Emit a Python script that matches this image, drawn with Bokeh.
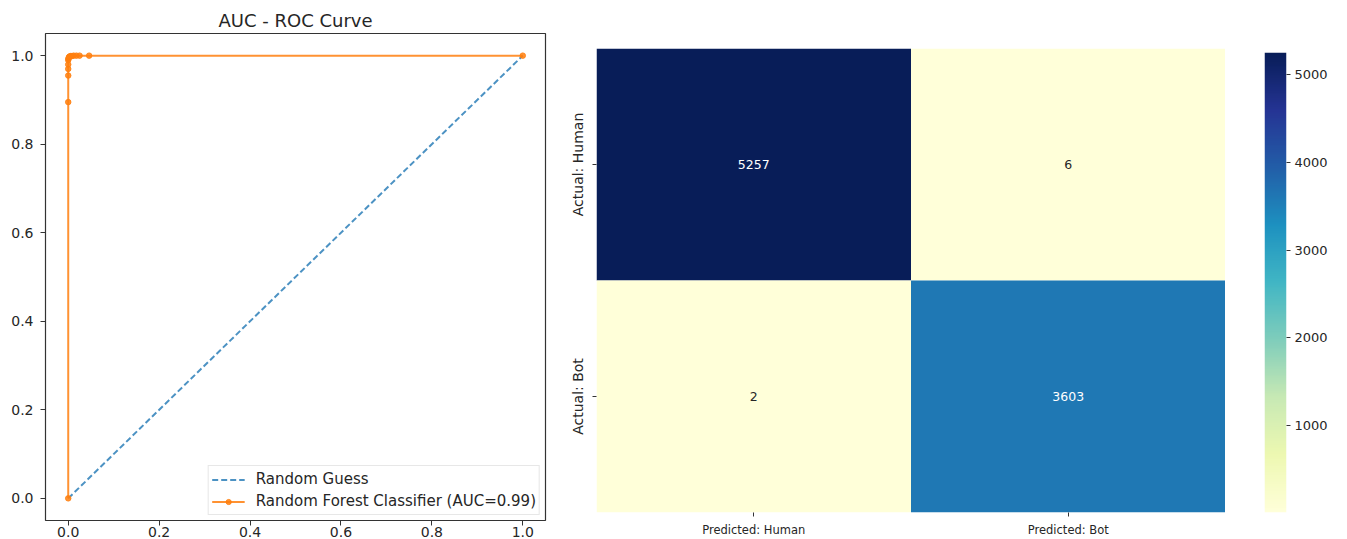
import numpy as np
from bokeh.plotting import figure
from bokeh.layouts import row
from bokeh.models import (ColumnDataSource, LinearColorMapper, FixedTicker,
                          Range1d, PrintfTickFormatter)
from bokeh.palettes import YlGnBu9
from bokeh.core.properties import value
from bokeh.embed import file_html
from bokeh.resources import INLINE

# ---- ROC curve data ----
fpr = [0.0, 0.0, 0.0, 0.0, 0.0, 0.0, 0.0005, 0.001, 0.002, 0.003, 0.005, 0.008,
       0.012, 0.018, 0.025, 0.046, 1.0]
tpr = [0.0, 0.895, 0.955, 0.97, 0.98, 0.99, 0.993, 0.995, 0.997, 0.998, 0.999,
       0.999, 1.0, 1.0, 1.0, 1.0, 1.0]
chance_x = [0.0, 1.0]
chance_y = [0.0, 1.0]
roc_ticks = [0.0, 0.2, 0.4, 0.6, 0.8, 1.0]

# ---- Confusion matrix data ----
predicted_labels = ["Predicted: Human", "Predicted: Bot"]
actual_labels = ["Actual: Human", "Actual: Bot"]
conf_matrix = [[5257, 6], [2, 3603]]
colorbar_ticks = [1000, 2000, 3000, 4000, 5000]

FONT = "DejaVu Sans"
TXT = "#262626"


def interp_palette(colors, n=256):
    rgb = np.array([[int(c[i:i + 2], 16) for i in (1, 3, 5)] for c in colors], float)
    pos = np.linspace(0, 1, len(colors))
    t = np.linspace(0, 1, n)
    out = np.stack([np.interp(t, pos, rgb[:, k]) for k in range(3)], axis=1)
    return ["#%02x%02x%02x" % tuple(int(round(v)) for v in r) for r in out]


# ---------------- ROC figure ----------------
roc = figure(width=560, height=539, output_backend="svg", toolbar_location=None,
             x_range=Range1d(-0.05, 1.05), y_range=Range1d(-0.05, 1.05),
             min_border_left=45, min_border_right=15, min_border_top=33,
             min_border_bottom=0, title="AUC - ROC Curve", frame_align=False)
roc.title.align = "center"
roc.title.text_font = FONT
roc.title.text_font_size = "18px"
roc.title.text_font_style = "normal"
roc.title.text_color = TXT
roc.title.standoff = 5
roc.grid.visible = False
roc.outline_line_color = "#333333"
roc.outline_line_width = 1.2
for ax in (roc.xaxis[0], roc.yaxis[0]):
    ax.ticker = FixedTicker(ticks=roc_ticks)
    ax.formatter = PrintfTickFormatter(format="%.1f")
    ax.axis_line_color = None
    ax.major_tick_in = 0
    ax.major_tick_out = 5
    ax.minor_tick_line_color = None
    ax.major_tick_line_color = "#333333"
    ax.major_label_text_font = FONT
    ax.major_label_text_font_size = "14px"
    ax.major_label_text_color = TXT
roc.yaxis[0].major_label_standoff = 7
roc.xaxis[0].major_label_standoff = 1

roc.line(chance_x, chance_y, line_color="#1f77b4", line_dash="6 3", line_width=2,
         line_alpha=0.8, legend_label="Random Guess")
roc.line(fpr, tpr, line_color="#ff7f0e", line_width=2, line_alpha=0.85,
         legend_label="Random Forest Classifier (AUC=0.99)")
roc.scatter(fpr, tpr, size=5.5, fill_color="#ff7f0e", line_color="#ff7f0e",
            fill_alpha=0.85, line_alpha=0.85,
            legend_label="Random Forest Classifier (AUC=0.99)")
roc.legend.location = "bottom_right"
roc.legend.label_text_font = FONT
roc.legend.label_text_font_size = "15px"
roc.legend.label_text_color = TXT
roc.legend.border_line_color = "#d0d0d0"
roc.legend.border_line_width = 1
roc.legend.background_fill_alpha = 0.8
roc.legend.glyph_width = 33
roc.legend.glyph_height = 13
roc.legend.label_height = 20
roc.legend.spacing = 2
roc.legend.padding = 3
roc.legend.margin = 5
roc.legend.label_standoff = 11

# ---------------- Confusion matrix heatmap ----------------
palette = interp_palette(list(YlGnBu9)[::-1])
vals = [v for r in conf_matrix for v in r]
lo, hi = min(vals), max(vals)
mapper = LinearColorMapper(palette=palette, low=lo, high=hi)

xs, ys, vs, labels, tcolors = [], [], [], [], []
mid = (lo + hi) / 2
for i, a in enumerate(actual_labels):
    for j, pcl in enumerate(predicted_labels):
        v = conf_matrix[i][j]
        xs.append(pcl)
        ys.append(a)
        vs.append(v)
        labels.append(str(v))
        tcolors.append("#ffffff" if v > mid else TXT)
src = ColumnDataSource(dict(x=xs, y=ys, v=vs, label=labels, tc=tcolors))

hm = figure(width=665, height=539, output_backend="svg", toolbar_location=None,
            x_range=predicted_labels, y_range=actual_labels[::-1],
            min_border_left=36, min_border_right=0, min_border_top=48,
            min_border_bottom=0, frame_align=False)
hm.rect(x="x", y="y", width=1, height=1, source=src,
        fill_color={"field": "v", "transform": mapper}, line_color=None)
hm.text(x="x", y="y", text="label", source=src, text_align="center",
        text_baseline="middle", text_color="tc", text_font=value(FONT),
        text_font_size="12.5px")
hm.grid.visible = False
hm.outline_line_color = None
for ax in (hm.xaxis[0], hm.yaxis[0]):
    ax.axis_line_color = None
    ax.major_tick_in = 0
    ax.major_tick_out = 4
    ax.major_tick_line_color = "#333333"
    ax.minor_tick_line_color = None
    ax.major_label_text_font = FONT
    ax.major_label_text_color = TXT
hm.xaxis[0].major_label_text_font_size = "11.5px"
hm.xaxis[0].major_label_standoff = 6
hm.yaxis[0].major_label_text_font_size = "14px"
hm.yaxis[0].major_label_orientation = "vertical"
hm.yaxis[0].major_label_standoff = 7

# ---------------- Colour scale for the heatmap ----------------
gradient = np.linspace(lo, hi, 512).reshape(512, 1)
cb = figure(width=122, height=539, output_backend="svg", toolbar_location=None,
            x_range=Range1d(0, 1), y_range=Range1d(lo, hi),
            x_axis_location=None, y_axis_location="right",
            min_border_left=39, min_border_right=61, min_border_top=52,
            min_border_bottom=27, frame_align=False)
cb.image(image=[gradient], x=0, y=lo, dw=1, dh=hi - lo, color_mapper=mapper)
cb.grid.visible = False
cb.outline_line_color = None
cax = cb.yaxis[0]
cax.ticker = FixedTicker(ticks=colorbar_ticks)
cax.axis_line_color = None
cax.major_tick_in = 0
cax.major_tick_out = 4
cax.major_tick_line_color = "#333333"
cax.minor_tick_line_color = None
cax.major_label_text_font = FONT
cax.major_label_text_font_size = "13px"
cax.major_label_text_color = TXT
cax.major_label_standoff = 4

layout = row(roc, hm, cb)
open("out.html", "w").write(file_html(layout, INLINE))
